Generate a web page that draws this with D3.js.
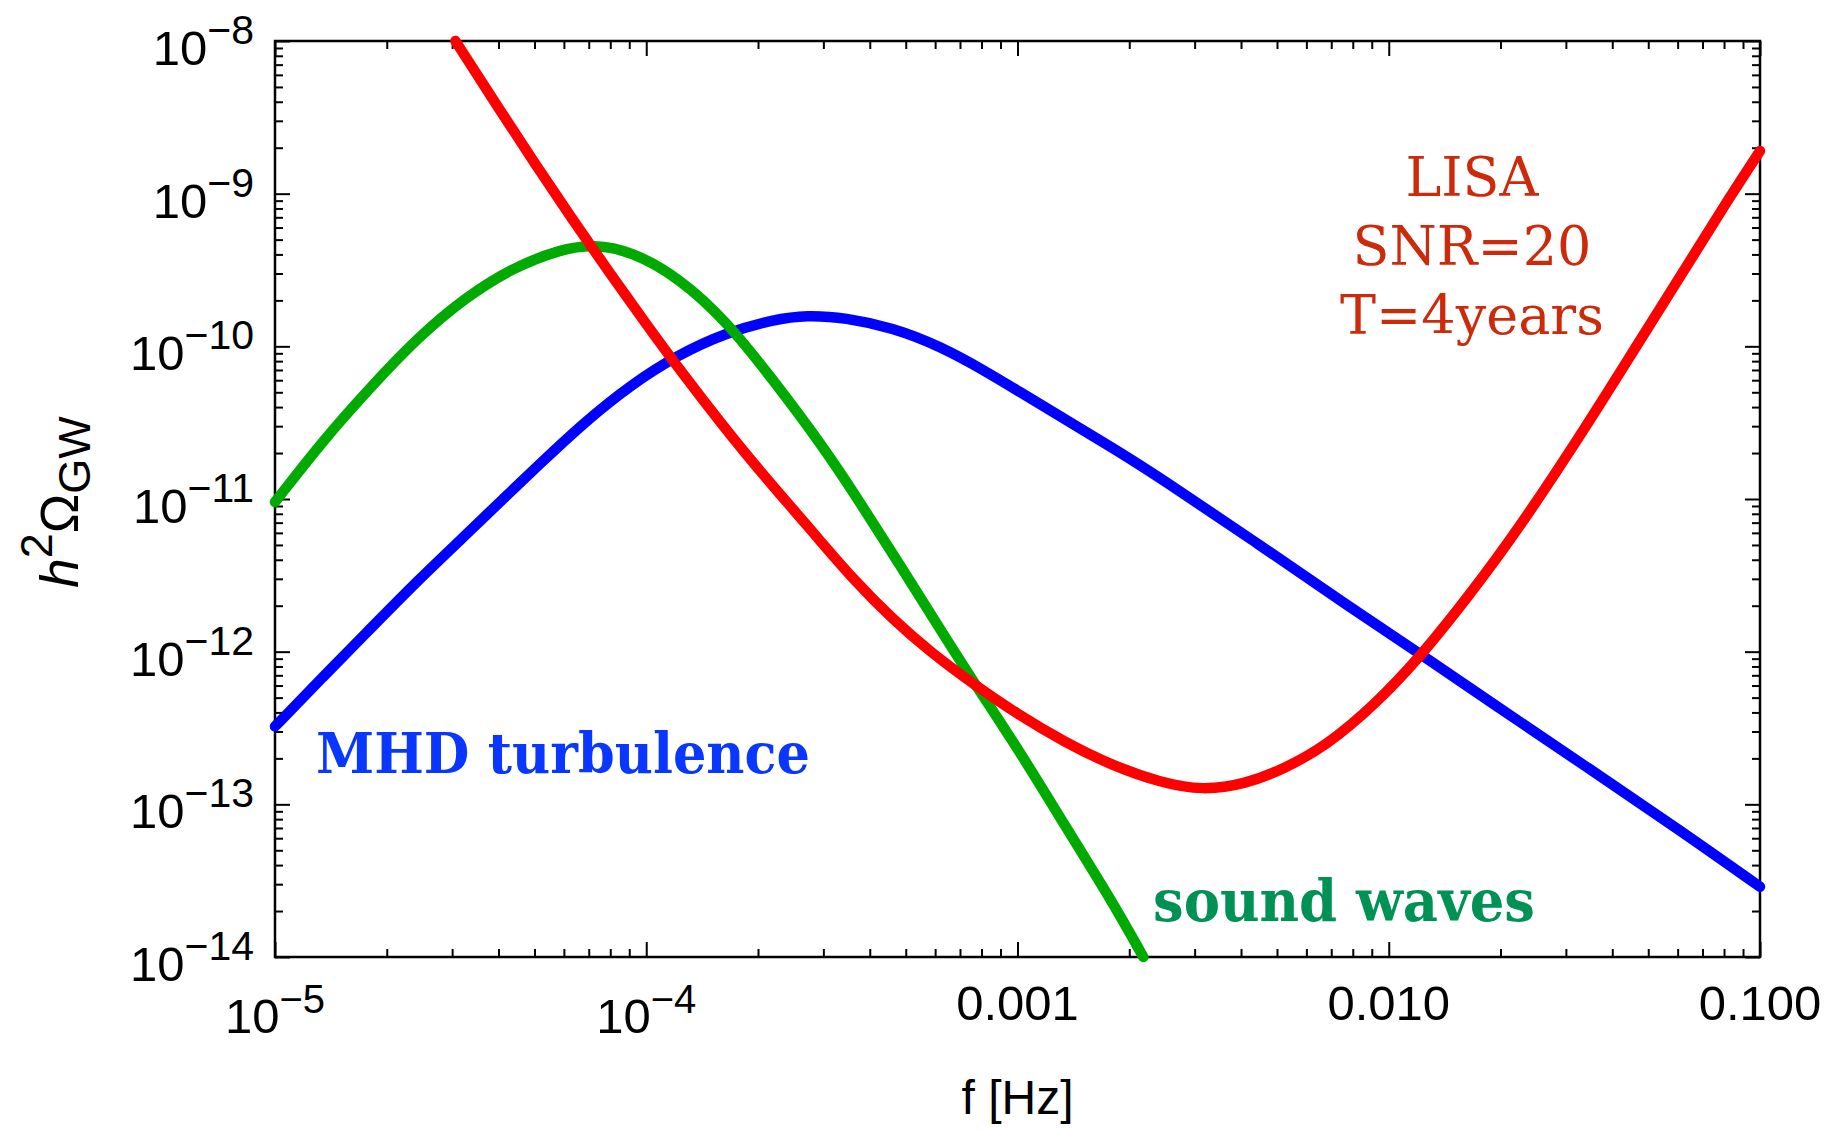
<!DOCTYPE html>
<html>
<head>
<meta charset="utf-8">
<script src="https://cdn.jsdelivr.net/npm/d3@7"></script>
<style>
  html, body { margin: 0; padding: 0; background: #fff; }
  svg { display: block; }
</style>
</head>
<body>
<div id="chart"></div>
<script>
'use strict';

// values, as log10 of f [Hz] and log10 of h^2 Omega_GW
const mhdLogF = [-5.0, -4.872, -4.744, -4.616, -4.488, -4.386, -4.283, -4.168, -4.040, -3.912,
    -3.784, -3.656, -3.567, -3.464, -3.337, -3.209, -3.081, -3.0, -2.872, -2.744, -2.616,
    -2.36, -2.104, -1.912, -1.72, -1.464, -1.209, -1.0];
const mhdLogOmega = [-12.49, -12.168, -11.852, -11.535, -11.24, -11.0, -10.762, -10.5, -10.249, -10.052,
    -9.91, -9.823, -9.795, -9.812, -9.878, -9.998, -10.17, -10.29, -10.478, -10.664, -10.86,
    -11.28, -11.71, -12.02, -12.34, -12.76, -13.18, -13.54];

const swLogF = [-5.0, -4.872, -4.744, -4.616, -4.488, -4.360, -4.232, -4.143, -4.040, -3.912,
    -3.784, -3.656, -3.528, -3.43, -3.32, -3.209, -3.113, -3.0, -2.872, -2.744, -2.661];
const swLogOmega = [-11.02, -10.62, -10.271, -9.943, -9.681, -9.485, -9.365, -9.332, -9.376, -9.55,
    -9.834, -10.227, -10.642, -11.0, -11.42, -11.85, -12.218, -12.63, -13.14, -13.64, -14.0];

const lisaLogF = [-4.514, -4.4, -4.3, -4.2, -4.1, -4.0, -3.9, -3.8, -3.7, -3.6,
    -3.528, -3.439, -3.337, -3.234, -3.119, -3.0, -2.872, -2.744,
    -2.616, -2.501, -2.386, -2.283, -2.168, -2.040, -1.912, -1.784, -1.656, -1.464,
    -1.336, -1.209, -1.081, -1.0];
const lisaLogOmega = [-8.0, -8.431, -8.803, -9.165, -9.515, -9.855, -10.185, -10.50, -10.80, -11.08,
    -11.284, -11.535, -11.786, -12.004, -12.212, -12.41, -12.594, -12.747,
    -12.856, -12.91, -12.867, -12.769, -12.616, -12.354, -12.026, -11.633, -11.218, -10.51,
    -10.01, -9.52, -9.02, -8.72];

const xTickValues = [1e-5, 1e-4, 1e-3, 1e-2, 1e-1];
const xTickLabels = [['10', '−5'], ['10', '−4'], ['0.001', ''], ['0.010', ''], ['0.100', '']];
const yTickValues = [1e-14, 1e-13, 1e-12, 1e-11, 1e-10, 1e-9, 1e-8];
const yTickLabels = [['10', '−14'], ['10', '−13'], ['10', '−12'], ['10', '−11'], ['10', '−10'], ['10', '−9'], ['10', '−8']];

const width = 1832;
const height = 1130;
const plot = { left: 275, right: 1760, top: 41, bottom: 957 };
const sansFont = "'Liberation Sans', Arial, Helvetica, sans-serif";
const serifFont = "'DejaVu Serif', 'Liberation Serif', serif";

const svg = d3.select('#chart')
    .append('svg')
    .attr('width', width)
    .attr('height', height);

const x = d3.scaleLog()
    .domain([1e-5, 0.1])
    .range([plot.left, plot.right]);
const y = d3.scaleLog()
    .domain([1e-14, 1e-8])
    .range([plot.bottom, plot.top]);

const minorX = x.ticks().filter(v => !xTickValues.some(m => Math.abs(m - v) / m < 1e-6));
const minorY = y.ticks().filter(v => !yTickValues.some(m => Math.abs(m - v) / m < 1e-6));

// ticks pointing inward on all four sides
function tickAxis(axis, values, size, transform) {
    const g = svg.append('g')
        .attr('transform', transform)
        .call(axis.tickValues(values).tickSizeInner(size).tickSizeOuter(0).tickFormat(''));
    g.select('.domain').remove();
    g.selectAll('line').attr('stroke', '#000').attr('stroke-width', 2);
}

tickAxis(d3.axisBottom(x), xTickValues, -15, `translate(0,${plot.bottom})`);
tickAxis(d3.axisBottom(x), minorX, -8, `translate(0,${plot.bottom})`);
tickAxis(d3.axisTop(x), xTickValues, -15, `translate(0,${plot.top})`);
tickAxis(d3.axisTop(x), minorX, -8, `translate(0,${plot.top})`);
tickAxis(d3.axisLeft(y), yTickValues, -15, `translate(${plot.left},0)`);
tickAxis(d3.axisLeft(y), minorY, -8, `translate(${plot.left},0)`);
tickAxis(d3.axisRight(y), yTickValues, -15, `translate(${plot.right},0)`);
tickAxis(d3.axisRight(y), minorY, -8, `translate(${plot.right},0)`);

svg.append('rect')
    .attr('x', plot.left)
    .attr('y', plot.top)
    .attr('width', plot.right - plot.left)
    .attr('height', plot.bottom - plot.top)
    .attr('fill', 'none')
    .attr('stroke', '#000')
    .attr('stroke-width', 2.5);

// tick labels
xTickValues.forEach((v, i) => {
    const lab = xTickLabels[i];
    const t = svg.append('text')
        .attr('x', x(v))
        .attr('y', lab[1] ? plot.bottom + 76 : plot.bottom + 63)
        .attr('text-anchor', 'middle')
        .attr('font-family', sansFont)
        .attr('font-size', 49)
        .text(lab[0]);
    if (lab[1]) {
        t.append('tspan')
            .attr('dy', -20)
            .attr('font-size', 40)
            .text(lab[1]);
    }
});

yTickValues.forEach((v, i) => {
    const lab = yTickLabels[i];
    svg.append('text')
        .attr('x', 254)
        .attr('y', y(v) + 24)
        .attr('text-anchor', 'end')
        .attr('font-family', sansFont)
        .attr('font-size', 49)
        .call(t => {
            t.append('tspan').text(lab[0]);
            t.append('tspan').attr('dy', -21).attr('font-size', 41).text(lab[1]);
        });
});

// axis titles
svg.append('text')
    .attr('x', (plot.left + plot.right) / 2)
    .attr('y', 1114)
    .attr('text-anchor', 'middle')
    .attr('font-family', sansFont)
    .attr('font-size', 48)
    .text('f [Hz]');

const yTitle = svg.append('text')
    .attr('transform', `translate(78,${(plot.top + plot.bottom) / 2 + 3}) rotate(-90)`)
    .attr('text-anchor', 'middle')
    .attr('font-family', sansFont)
    .attr('font-size', 53);
yTitle.append('tspan').attr('font-style', 'italic').text('h');
yTitle.append('tspan').attr('dy', -26).attr('font-size', 45).text('2');
yTitle.append('tspan').attr('dy', 26).text('Ω');
yTitle.append('tspan').attr('dy', 12).attr('font-size', 45).text('GW');

// curves
const line = d3.line()
    .x(d => x(Math.pow(10, d[0])))
    .y(d => y(Math.pow(10, d[1])))
    .curve(d3.curveBasis);

const series = [
    { f: mhdLogF, o: mhdLogOmega, color: '#0000ff' },
    { f: swLogF, o: swLogOmega, color: '#00aa00' },
    { f: lisaLogF, o: lisaLogOmega, color: '#ff0000' }
];

svg.selectAll('.curve')
    .data(series)
    .enter()
    .append('path')
    .attr('class', 'curve')
    .attr('d', s => line(d3.zip(s.f, s.o)))
    .attr('fill', 'none')
    .attr('stroke', s => s.color)
    .attr('stroke-width', 10.5)
    .attr('stroke-linecap', 'round')
    .attr('stroke-linejoin', 'round');

// annotations
svg.append('text')
    .attr('x', 316)
    .attr('y', 773)
    .attr('font-family', serifFont)
    .attr('font-weight', 'bold')
    .attr('font-size', 56)
    .attr('fill', '#0a37ff')
    .attr('textLength', 494)
    .attr('lengthAdjust', 'spacingAndGlyphs')
    .text('MHD turbulence');

svg.append('text')
    .attr('x', 1153)
    .attr('y', 921)
    .attr('font-family', serifFont)
    .attr('font-weight', 'bold')
    .attr('font-size', 57)
    .attr('fill', '#009255')
    .attr('textLength', 382)
    .attr('lengthAdjust', 'spacingAndGlyphs')
    .text('sound waves');

const lisaLines = ['LISA', 'SNR=20', 'T=4years'];
svg.selectAll('.lisa')
    .data(lisaLines)
    .enter()
    .append('text')
    .attr('class', 'lisa')
    .attr('x', 1472)
    .attr('y', (d, i) => 196 + i * 69)
    .attr('text-anchor', 'middle')
    .attr('font-family', serifFont)
    .attr('font-size', 54)
    .attr('fill', '#cc2a0a')
    .text(d => d);
</script>
</body>
</html>
